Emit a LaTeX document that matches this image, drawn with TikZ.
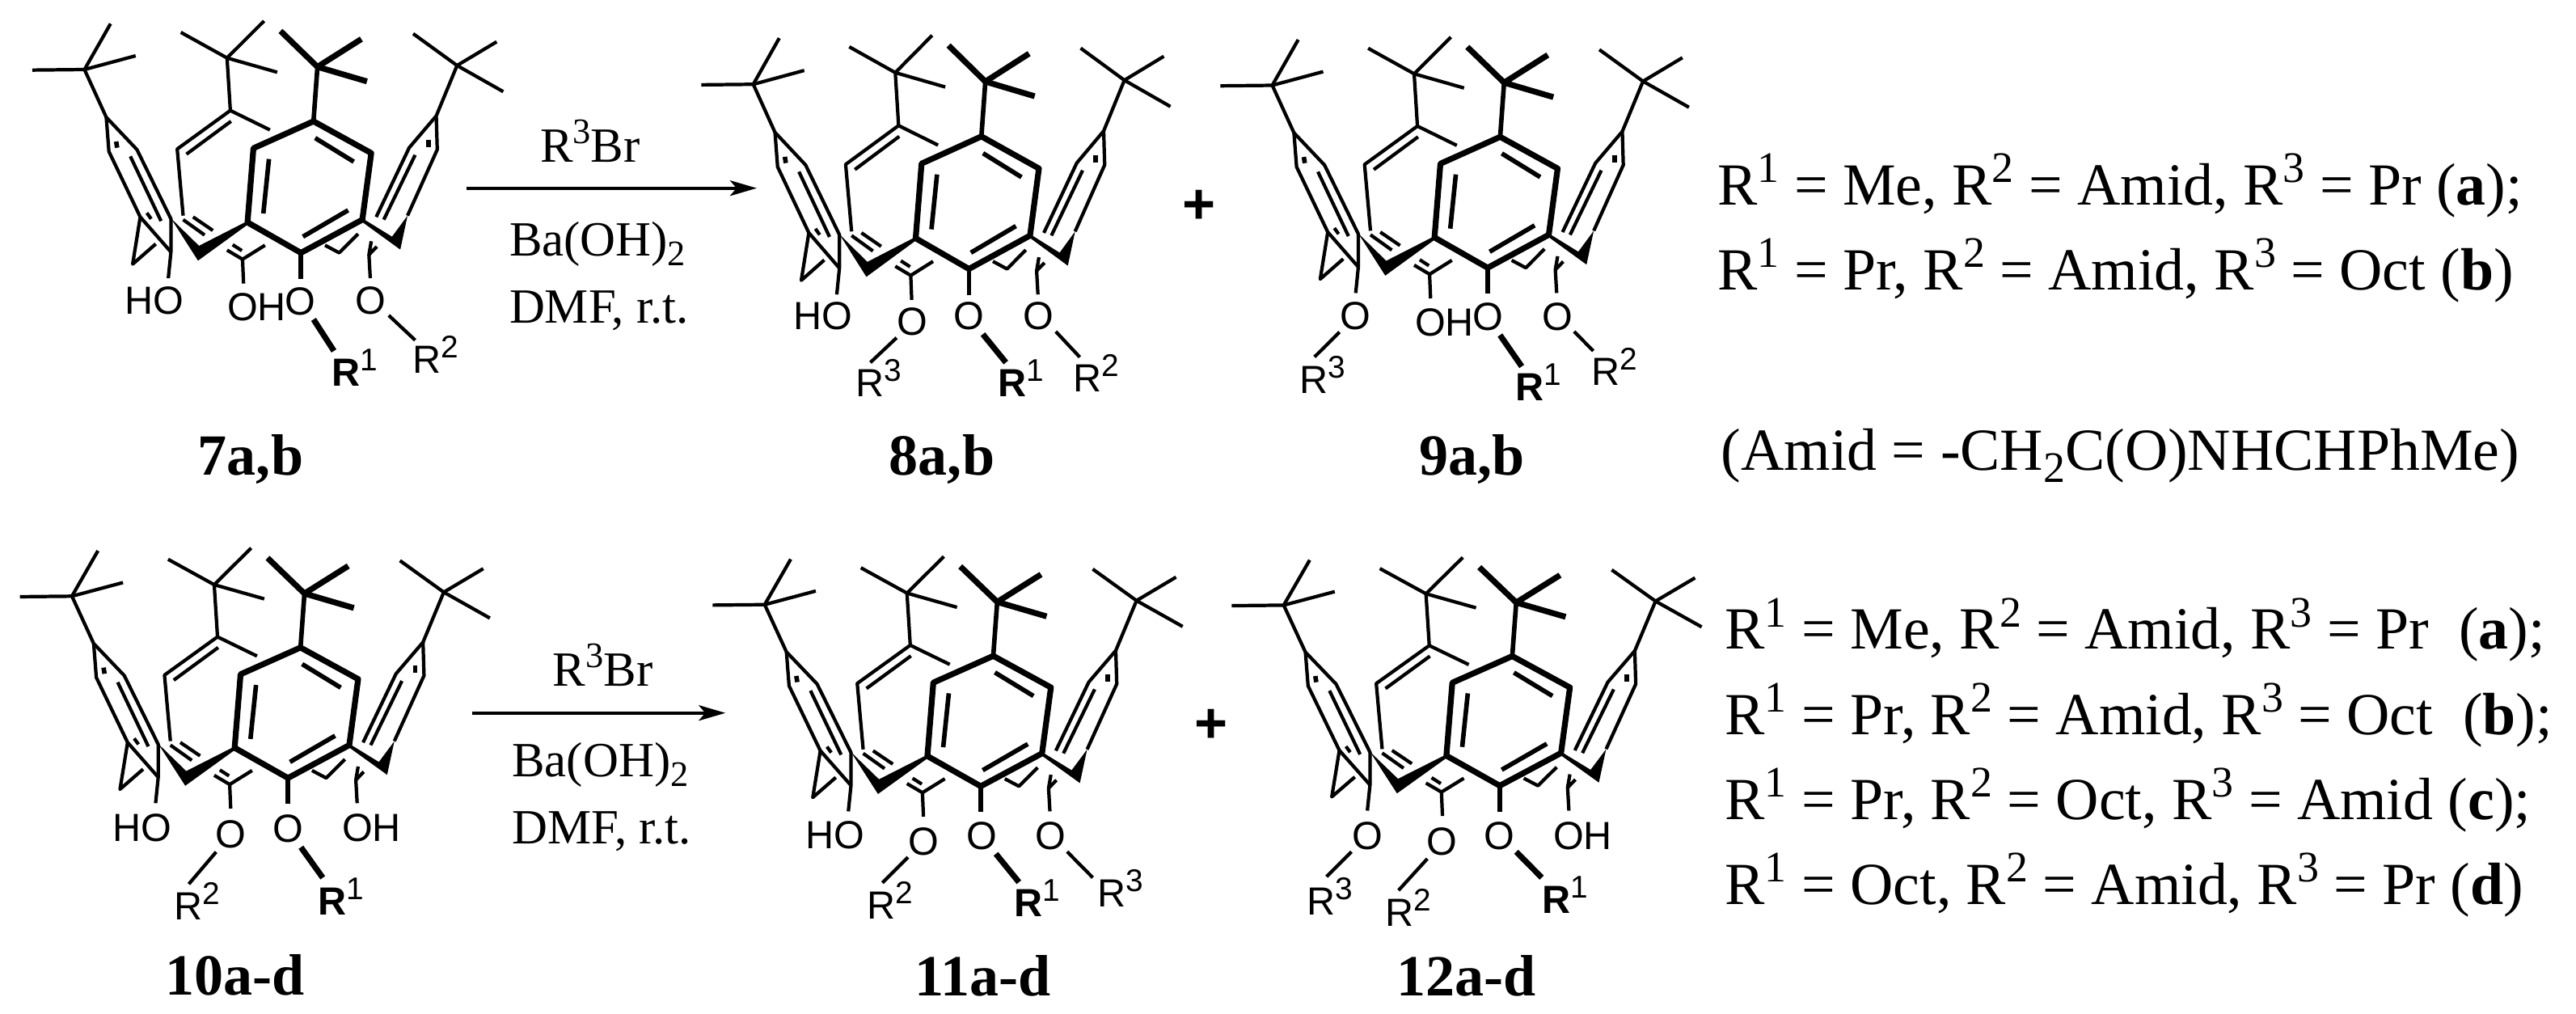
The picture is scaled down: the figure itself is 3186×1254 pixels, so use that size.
\documentclass[tikz,border=0pt]{standalone}
\usepackage{fontspec}
\usepackage{graphicx}
\setmainfont{Liberation Serif}
\newfontfamily\arialf{Liberation Sans}
\usetikzlibrary{arrows.meta}
\newcommand\tsup[1]{\raisebox{.375em}{\scalebox{.73}{#1}}}
\newcommand\tsub[1]{\raisebox{-.2em}{\scalebox{.73}{#1}}}
\newcommand\asup[1]{\raisebox{.39em}{\scalebox{.8}{#1}}}
\newcommand\Rn[1]{R\asup{#1}}
\newcommand\Rb{{\bfseries R}\asup{1}}
\tikzset{
  x=0.01cm,y=-0.01cm,
  thinb/.style={line width=1.2pt,line join=round},
  medb/.style={line width=1.6pt,line join=round},
  boldb/.style={line width=2.05pt,line join=round},
  atom/.style={font=\arialf\fontsize{13.8}{14}\selectfont,inner sep=0pt,anchor=base},
  rlab/.style={font=\arialf\fontsize{13.8}{14}\selectfont,inner sep=0pt,anchor=base west},
  cmpd/.style={font=\fontsize{20.5}{21}\selectfont\bfseries,inner sep=0pt,anchor=base},
  reag/.style={font=\fontsize{17.3}{18}\selectfont,inner sep=0pt,anchor=base},
  reagw/.style={font=\fontsize{17.3}{18}\selectfont,inner sep=0pt,anchor=base west},
  note/.style={font=\fontsize{21}{22}\selectfont,inner sep=0pt,anchor=base west},
  plus/.style={font=\arialf\fontsize{20}{20}\selectfont\bfseries,inner sep=0pt},
  rxn/.style={line width=1.25pt,-{Stealth[length=0.33cm,width=0.19cm,inset=0.08cm]}},
}
\newcommand\calix[4]{%
\begin{scope}[shift={(#1,#2)},xscale={#3/2.45},yscale={#4/3}]
  % left tBu and ring
  \draw[thinb] (98,260)--(256,258)--(335,88);
  \draw[thinb] (256,258)--(411,207);
  \draw[thinb] (256,258)--(322,435)--(415,555)--(518,812)--(518,935)--(510,1032);
  \draw[thinb] (322,435)--(330,562)--(425,805)--(518,935);
  \draw[thinb] (395,580)--(488,820);
  \draw[medb] (352,525)--(355,548);
  \draw[thinb] (445,790)--(458,812);
  \draw[thinb] (425,805)--(402,980)--(472,905);
  % back ring
  \draw[thinb] (548,120)--(688,215)--(800,78);
  \draw[thinb] (688,215)--(840,268);
  \draw[thinb] (688,215)--(698,410)--(537,553)--(555,800);
  \draw[thinb] (698,410)--(818,482);
  \draw[thinb] (700,450)--(565,572);
  \draw[thinb] (555,815)--(620,872);
  \draw[thinb] (585,805)--(645,855);
  \draw[thinb] (705,908)--(733,930);
  \draw[thinb] (688,928)--(735,962)--(803,910);
  \draw[thinb] (735,962)--(738,1052);
  % front ring
  \draw[boldb] (850,115)--(962,248)--(1095,145);
  \draw[boldb] (962,248)--(1112,302);
  \draw[medb] (962,248)--(950,450);
  \draw[boldb] (950,450)--(768,550)--(750,825)--(912,938)--(1098,815)--(1125,568)--cycle;
  \draw[medb] (815,590)--(798,792);
  \draw[medb] (955,512)--(1072,600);
  \draw[medb] (918,878)--(1055,780);
  \draw[medb] (912,938)--(912,1035);
  % methylene wedges
  \fill (518,810)--(603,912)--(750,820)--(752,832)--(600,967)--cycle;
  \fill (1098,810)--(1188,878)--(1235,800)--(1213,926)--(1098,824)--cycle;
  % right ring
  \draw[thinb] (1252,125)--(1385,243)--(1505,155);
  \draw[thinb] (1385,243)--(1525,340);
  \draw[thinb] (1385,243)--(1322,430)--(1240,548)--(1140,805);
  \draw[thinb] (1322,430)--(1325,555)--(1235,800);
  \draw[medb] (1298,518)--(1298,545);
  \draw[thinb] (1258,575)--(1163,815);
  \draw[thinb] (1085,868)--(1028,938)--(985,910);
  \draw[thinb] (1125,895)--(1118,945)--(1142,915);
  \draw[thinb] (1118,945)--(1122,1032);
\end{scope}}
\newcommand\bd[5]{\draw[#1] (#2,#3)--(#4,#5);}
\begin{document}
\begin{tikzpicture}
\useasboundingbox (0,0) rectangle (3186,1254);
% skeletons
\calix{0}{0}{1}{1}
\calix{827.6}{17.6}{.996}{1.0075}
\calix{1469.6}{19.9}{.995}{.9956}
\calix{-15.3}{652}{.998}{.992}
\calix{841.5}{662.5}{.998}{.991}
\calix{1483.4}{663.7}{.998}{.985}
% 7
\node[atom] (a7a) at (191,388.3) {HO};
\node[atom] (a7b) at (317.5,396) {OH};
\node[atom] (a7c) at (371.4,389) {O};
\node[atom] (a7d) at (458,388.3) {O};
\node[rlab] (r7a) at (409.4,477.3) {\Rb};
\node[rlab] (r7b) at (509.4,461.7) {\Rn{2}};
\bd{boldb}{387.8}{395}{413}{434}
\bd{thinb}{480.8}{390}{513.5}{420.7}
\node[cmpd] (c7) at (310,587) {7a,b};
% 8
\node[atom] (a8a) at (1018,407.3) {HO};
\node[atom] (a8b) at (1127.9,414) {O};
\node[atom] (a8c) at (1198.6,407.7) {O};
\node[atom] (a8d) at (1284.8,407.7) {O};
\node[rlab] (r8a) at (1057.5,490.7) {\Rn{3}};
\node[rlab] (r8b) at (1233.4,490.7) {\Rb};
\node[rlab] (r8c) at (1326.4,484) {\Rn{2}};
\bd{thinb}{1108.9}{417.7}{1076.5}{448.3}
\bd{boldb}{1215.6}{413.3}{1244.1}{448.3}
\bd{thinb}{1305.8}{410}{1335.5}{441.7}
\node[cmpd] (c8) at (1165,587) {8a,b};
% 9
\node[atom] (a9a) at (1676,407.4) {O};
\node[atom] (a9b) at (1786.4,415.5) {OH};
\node[atom] (a9c) at (1840.2,408.1) {O};
\node[atom] (a9d) at (1926.4,408.1) {O};
\node[rlab] (r9a) at (1606.9,486.5) {\Rn{3}};
\node[rlab] (r9b) at (1874.2,495.8) {\Rb};
\node[rlab] (r9c) at (1967.9,476.6) {\Rn{2}};
\bd{thinb}{1656.7}{410.7}{1625.8}{441.4}
\bd{boldb}{1855.2}{414.4}{1882.1}{453.2}
\bd{thinb}{1946.9}{410}{1970.6}{434}
\node[cmpd] (c9) at (1820.4,587.5) {9a,b};
\node[plus] (p1) at (1483.5,256) {+};
% 10
\node[atom] (a10a) at (176,1040.8) {HO};
\node[atom] (a10b) at (284.9,1048.6) {O};
\node[atom] (a10c) at (355.9,1041.6) {O};
\node[atom] (a10d) at (459.6,1040.8) {OH};
\node[rlab] (r10a) at (214.3,1137.3) {\Rn{2}};
\node[rlab] (r10b) at (392.7,1131.4) {\Rb};
\bd{thinb}{267.3}{1053.6}{233.5}{1093.3}
\bd{boldb}{372.2}{1047.8}{399.2}{1085.5}
\node[cmpd] (c10) at (290.6,1230.7) {10a-d};
% 11
\node[atom] (a11a) at (1033.2,1049.5) {HO};
\node[atom] (a11b) at (1142.3,1057) {O};
\node[atom] (a11c) at (1213.9,1050.3) {O};
\node[atom] (a11d) at (1299.7,1050.3) {O};
\node[rlab] (r11a) at (1071.5,1136.1) {\Rn{2}};
\node[rlab] (r11b) at (1254.2,1133.5) {\Rb};
\node[rlab] (r11c) at (1357,1121) {\Rn{3}};
\bd{thinb}{1123}{1060}{1091.3}{1091.7}
\bd{boldb}{1231.7}{1055.9}{1260.2}{1091}
\bd{thinb}{1319.9}{1053.3}{1351.5}{1085.3}
\node[cmpd] (c11) at (1215.9,1231.3) {11a-d};
% 12
\node[atom] (a12a) at (1691.3,1050.3) {O};
\node[atom] (a12b) at (1783.4,1057.8) {O};
\node[atom] (a12c) at (1854.2,1050.3) {O};
\node[atom] (a12d) at (1957.4,1050.3) {OH};
\node[rlab] (r12a) at (1615.4,1131.6) {\Rn{3}};
\node[rlab] (r12b) at (1712.3,1145.5) {\Rn{2}};
\node[rlab] (r12c) at (1906.8,1129.7) {\Rb};
\bd{thinb}{1671.5}{1053.3}{1640.7}{1084.2}
\bd{thinb}{1765.3}{1062}{1729.7}{1101.1}
\bd{boldb}{1875.2}{1053.3}{1906.8}{1085.3}
\node[cmpd] (c12) at (1813.5,1231.3) {12a-d};
\node[plus] (p2) at (1498.4,898) {+};
% reactions
\coordinate (s1) at (576.7,232.7);
\coordinate (e1) at (936,232.7);
\draw[rxn] (s1)--(e1);
\node[reag] (g1a) at (730,200.7) {R\tsup{3}Br};
\node[reagw] (g1b) at (629.3,316.7) {Ba(OH)\tsub{2}};
\node[reagw] (g1c) at (629.3,399.3) {DMF, r.t.};
\coordinate (s2) at (584,881.7);
\coordinate (e2) at (897.3,881.7);
\draw[rxn] (s2)--(e2);
\node[reag] (g2a) at (745.8,848.3) {R\tsup{3}Br};
\node[reagw] (g2b) at (632.7,960) {Ba(OH)\tsub{2}};
\node[reagw] (g2c) at (632.7,1043.3) {DMF, r.t.};
% notes
\node[note] (n1) at (2123.7,253.3) {R\tsup{1} = Me, R\tsup{2} = Amid, R\tsup{3} = Pr (\textbf{a});};
\node[note] (n2) at (2123.7,358.3) {R\tsup{1} = Pr, R\tsup{2} = Amid, R\tsup{3} = Oct (\textbf{b})};
\node[note] (n3) at (2128,581.7) {(Amid = -CH\tsub{2}C(O)NHCHPhMe)};
\node[note] (n4) at (2132.9,802.7) {R\tsup{1} = Me, R\tsup{2} = Amid, R\tsup{3} = Pr\ \ (\textbf{a});};
\node[note] (n5) at (2132.9,908.3) {R\tsup{1} = Pr, R\tsup{2} = Amid, R\tsup{3} = Oct\ \ (\textbf{b});};
\node[note] (n6) at (2132.9,1013.3) {R\tsup{1} = Pr, R\tsup{2} = Oct, R\tsup{3} = Amid (\textbf{c});};
\node[note] (n7) at (2132.9,1118.3) {R\tsup{1} = Oct, R\tsup{2} = Amid, R\tsup{3} = Pr (\textbf{d})};
\end{tikzpicture}
\end{document}
